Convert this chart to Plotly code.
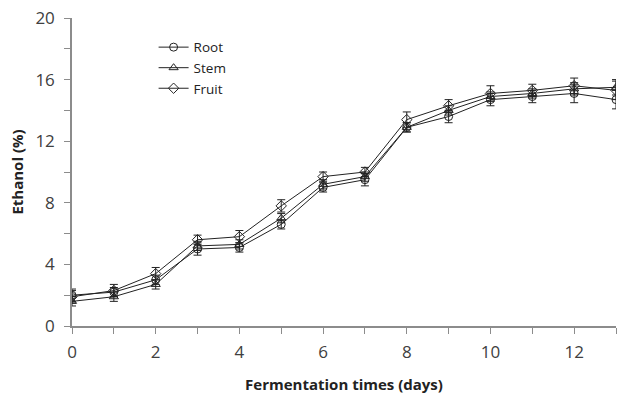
import plotly.graph_objects as go

days = list(range(14))
root = [2.0, 2.2, 3.0, 5.0, 5.1, 6.6, 9.0, 9.5, 12.9, 13.6, 14.7, 14.9, 15.1, 14.7]
stem = [1.6, 1.9, 2.7, 5.2, 5.3, 7.0, 9.2, 9.7, 12.9, 14.0, 14.9, 15.1, 15.4, 15.5]
fruit = [1.9, 2.3, 3.4, 5.6, 5.8, 7.8, 9.7, 10.0, 13.4, 14.3, 15.1, 15.3, 15.6, 15.3]
root_err = [0.4, 0.3, 0.3, 0.4, 0.3, 0.3, 0.3, 0.4, 0.3, 0.4, 0.4, 0.4, 0.6, 0.6]
stem_err = [0.3, 0.3, 0.3, 0.3, 0.3, 0.3, 0.3, 0.3, 0.3, 0.3, 0.3, 0.3, 0.4, 0.5]
fruit_err = [0.4, 0.4, 0.4, 0.3, 0.4, 0.4, 0.3, 0.3, 0.5, 0.4, 0.5, 0.4, 0.5, 0.6]

x_tickvals = list(range(0, 14))
x_ticktext = [str(v) if v % 2 == 0 else "" for v in x_tickvals]
y_tickvals = list(range(0, 21, 2))
y_ticktext = [str(v) if v % 4 == 0 else "" for v in y_tickvals]

series = [
    ("Root", root, root_err, "circle-open"),
    ("Stem", stem, stem_err, "triangle-up-open"),
    ("Fruit", fruit, fruit_err, "diamond-open"),
]

FONT = "Open Sans, Liberation Sans, sans-serif"

fig = go.Figure()
for name, vals, err, sym in series:
    fig.add_trace(go.Scatter(
        x=days, y=vals, name=name, mode="lines+markers",
        line=dict(color="#222222", width=1),
        marker=dict(symbol=sym, size=8, color="#222222", line=dict(width=1, color="#222222")),
        error_y=dict(type="data", array=err, visible=True, color="#222222", thickness=1, width=4),
    ))

axis_common = dict(
    showline=True, linecolor="#8c8c8c", linewidth=1.5,
    ticks="outside", tickcolor="#8c8c8c", ticklen=6, tickwidth=1,
    showgrid=False, zeroline=False, automargin=False,
    tickfont=dict(family=FONT, size=17, color="#404040"),
)

fig.update_layout(
    width=627, height=394,
    margin=dict(l=72, r=11, t=18, b=68),
    plot_bgcolor="white", paper_bgcolor="white",
    showlegend=True,
    legend=dict(x=0.15, y=0.955, xanchor="left", yanchor="top",
                bgcolor="rgba(0,0,0,0)",
                font=dict(family=FONT, size=13.5, color="#222222"),
                tracegroupgap=0, itemwidth=30),
    xaxis=dict(range=[0, 13], tickvals=x_tickvals, ticktext=x_ticktext,
               ticklabelstandoff=4,
               title=dict(text="<b>Fermentation times (days)</b>", standoff=20,
                          font=dict(family=FONT, size=15, color="#222222")),
               **axis_common),
    yaxis=dict(range=[0, 20], tickvals=y_tickvals, ticktext=y_ticktext,
               ticklabelstandoff=6,
               title=dict(text="<b>Ethanol (%)</b>", standoff=8,
                          font=dict(family=FONT, size=15, color="#222222")),
               **axis_common),
)

fig.write_html("out.html")
